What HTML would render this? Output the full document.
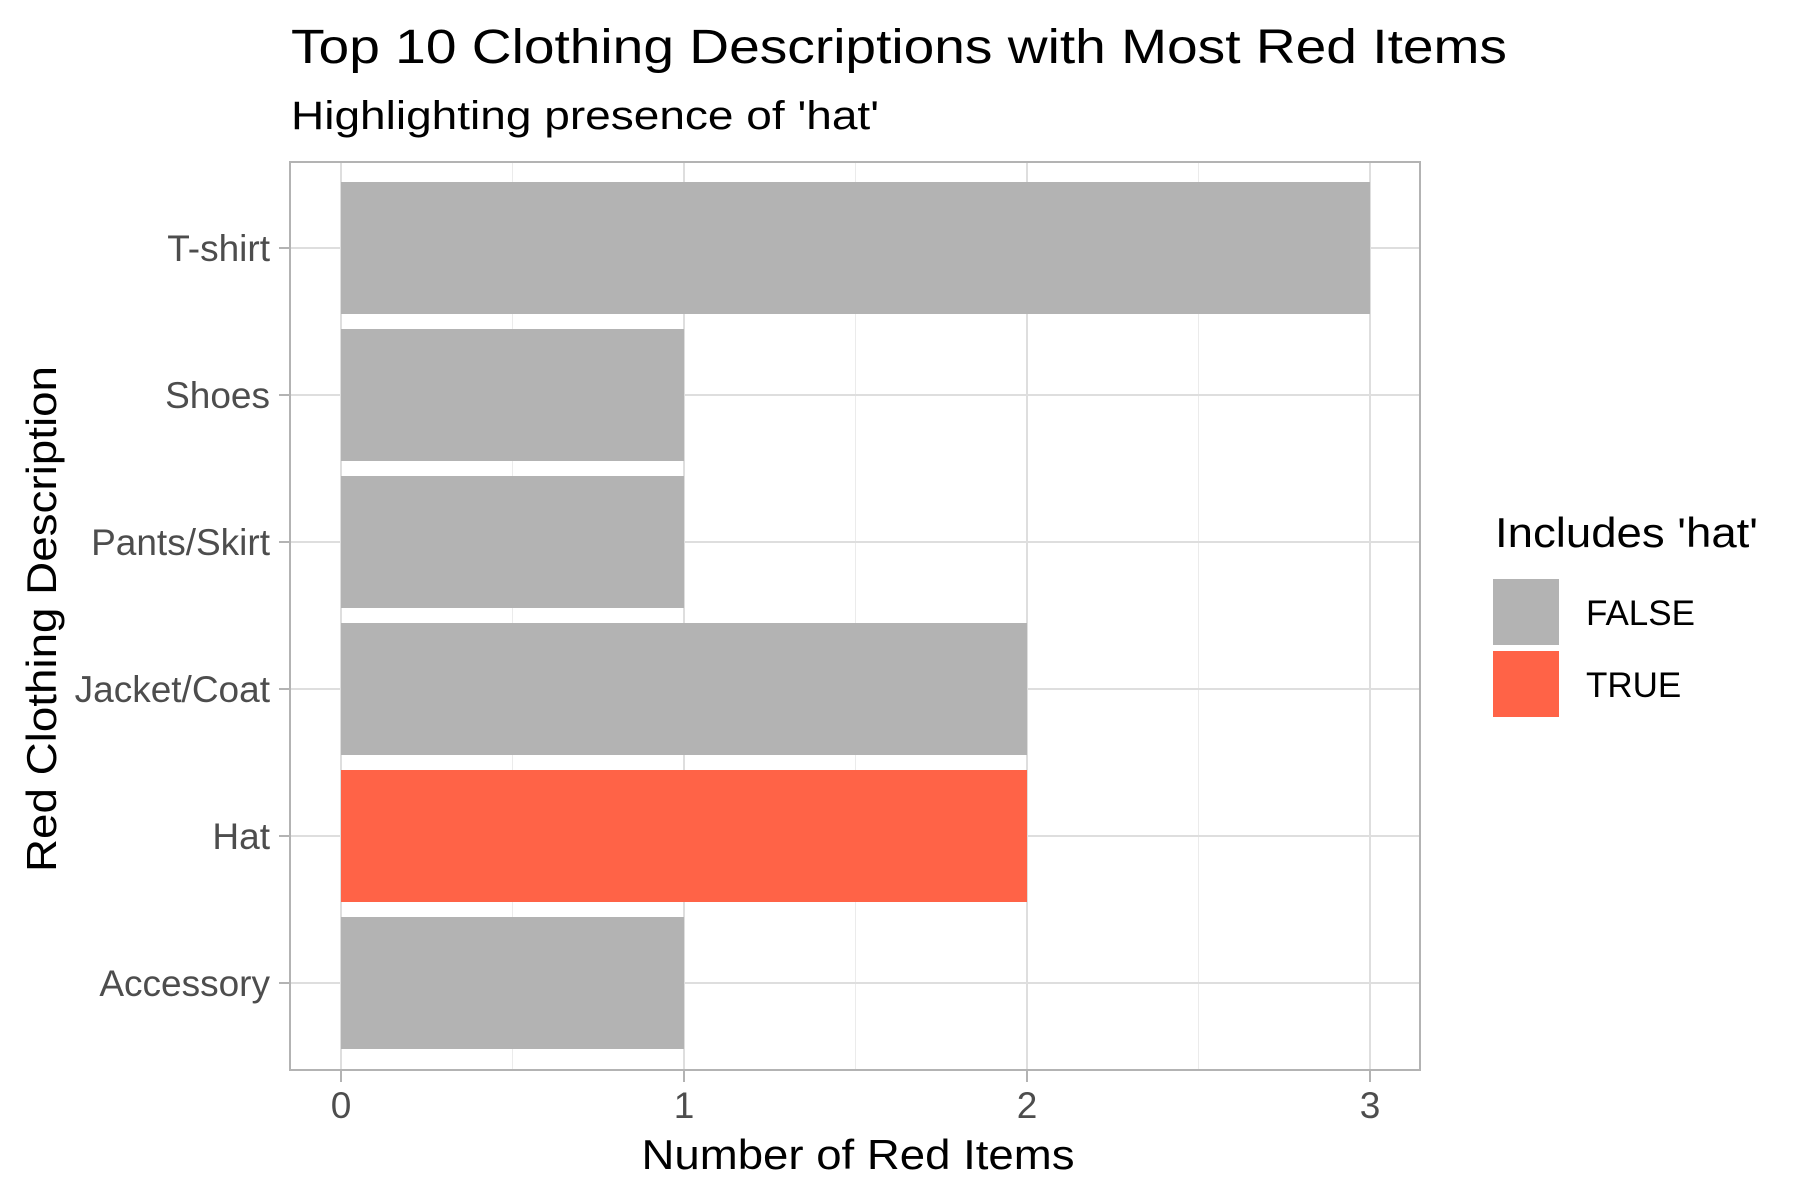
<!DOCTYPE html>
<html><head><meta charset="utf-8"><style>html,body{margin:0;padding:0;background:#fff}svg{display:block}text{font-family:"Liberation Sans",Arial,sans-serif}</style></head>
<body>
<svg id="chart" width="1800" height="1200" viewBox="0 0 1800 1200" xmlns="http://www.w3.org/2000/svg">
<text x="291" y="63" font-size="48" fill="#000" textLength="1216" lengthAdjust="spacingAndGlyphs">Top 10 Clothing Descriptions with Most Red Items</text>
<text x="291" y="129" font-size="40" fill="#000" textLength="588" lengthAdjust="spacingAndGlyphs">Highlighting presence of 'hat'</text>
<g id="grid"></g>
<g id="bars"></g>
<rect x="290" y="162" width="1130" height="908" fill="none" stroke="#b3b3b3" stroke-width="2"/>
<g id="axes"></g>
<text x="858" y="1169" font-size="42" text-anchor="middle" fill="#000" textLength="433" lengthAdjust="spacingAndGlyphs">Number of Red Items</text>
<text transform="translate(56,619) rotate(-90)" font-size="42" text-anchor="middle" fill="#000" textLength="506" lengthAdjust="spacingAndGlyphs">Red Clothing Description</text>
<g>
<text x="1495" y="547" font-size="42" fill="#000" textLength="263" lengthAdjust="spacingAndGlyphs">Includes 'hat'</text>
<rect x="1493" y="579" width="66" height="66" fill="#b3b3b3"/>
<text x="1586" y="625" font-size="35" fill="#000">FALSE</text>
<rect x="1493" y="651" width="66" height="66" fill="#ff6347"/>
<text x="1586" y="697" font-size="35" fill="#000">TRUE</text>
</g>
</svg>
<script>
const categories = ["T-shirt","Shoes","Pants/Skirt","Jacket/Coat","Hat","Accessory"];
const counts = [3,1,1,2,2,1];
const includesHat = [false,false,false,false,true,false];
const xTicks = [0,1,2,3];
const xMinor = [0.5,1.5,2.5];

const NS="http://www.w3.org/2000/svg";
const x0=341, xUnit=343;
const yTop=248, yStep=147, barH=132;
function xs(v){return x0+v*xUnit;}
function ys(i){return yTop+i*yStep;}
function mk(tag,attrs,parent){const e=document.createElementNS(NS,tag);for(const k in attrs)e.setAttribute(k,attrs[k]);parent.appendChild(e);return e;}
const grid=document.getElementById('grid'), bars=document.getElementById('bars'), axes=document.getElementById('axes');
xMinor.forEach(v=>{
  const l=mk('line',{x1:xs(v),x2:xs(v),y1:162,y2:1070,stroke:'#ebebeb','stroke-width':1},grid);
  
  
});
xTicks.forEach(v=>{
  const l=mk('line',{x1:xs(v),x2:xs(v),y1:162,y2:1070,stroke:'#dedede','stroke-width':2},grid);
  
  
  const t=mk('line',{x1:xs(v),x2:xs(v),y1:1070,y2:1082,stroke:'#b3b3b3','stroke-width':2},axes);
  
  
  const tx=mk('text',{x:xs(v),y:1118,'font-size':37,'text-anchor':'middle',fill:'#4d4d4d'},axes);
  tx.textContent=String(v);
  
  
});
categories.forEach((c,i)=>{
  const y=ys(i);
  const l=mk('line',{x1:290,x2:1420,y1:y,y2:y,stroke:'#dedede','stroke-width':2},grid);
  
  
  const r=mk('rect',{x:xs(0),y:y-barH/2,width:xs(counts[i])-xs(0),height:barH,fill:includesHat[i]?'#ff6347':'#b3b3b3'},bars);
  
  
  const t=mk('line',{x1:279,x2:290,y1:y,y2:y,stroke:'#b3b3b3','stroke-width':2},axes);
  
  
  const tx=mk('text',{x:270,y:y+13,'font-size':37,'text-anchor':'end',fill:'#4d4d4d'},axes);
  tx.textContent=c;
  
  
});
</script>
</body></html>
